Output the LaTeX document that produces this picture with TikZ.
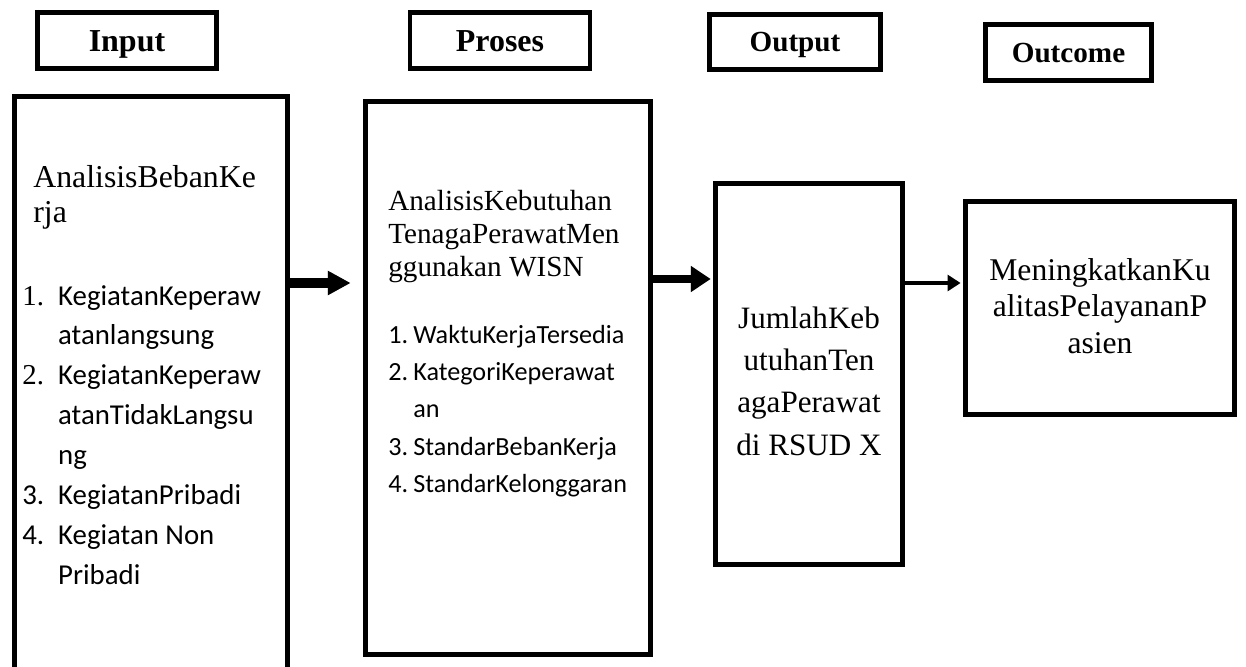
\documentclass[tikz,border=0pt]{standalone}
\usepackage{fontspec}
\setmainfont{Liberation Serif}
\newfontfamily\calibri{Carlito}
\usepackage{tikz}
\usetikzlibrary{arrows.meta}

\begin{document}
\begin{tikzpicture}[x=0.02cm, y=-0.02cm,
    box/.style={draw, rectangle, line width=2.8pt, inner sep=0pt},
    headbox/.style={box, font=\fontsize{18.2}{21}\selectfont\bfseries, text height=12.2pt, text depth=0pt},
    smallhead/.style={font=\fontsize{16.6}{20}\selectfont\bfseries, text height=11.2pt},
    txt/.style={inner sep=0pt, anchor=base west},
    ctxt/.style={inner sep=0pt, anchor=base},
    shade/.style={draw=black!30, xshift=1.2pt, yshift=-1.6pt},
    fatA/.style={line width=5.7pt, -{Triangle[length=13pt,width=13pt]}, shorten >=7.1pt},
    fatB/.style={line width=4.5pt, -{Triangle[length=11.3pt,width=14.2pt]}, shorten >=1.4pt},
    thinC/.style={line width=2.3pt, -{Triangle[length=7.4pt,width=9pt]}, shorten >=1.4pt}]
    \useasboundingbox (0,0) rectangle (1246,666);
    \clip (0,0) rectangle (1246,666);

    \node[headbox, minimum width=3.58cm, minimum height=1.12cm] (hInput) at (127,40.5) {Input};
    \node[headbox, minimum width=3.6cm, minimum height=1.12cm] (hProses) at (500,40.5) {Proses};
    \node[headbox, smallhead, minimum width=3.42cm, minimum height=1.1cm] (hOutput) at (795,42) {Output};
    \node[headbox, smallhead, minimum width=3.32cm, minimum height=1.12cm] (hOutcome) at (1068.5,52.5) {Outcome};

    \node[box, minimum width=5.46cm, minimum height=12.16cm] (bInput) at (151,400) {};
    \node[box, minimum width=5.7cm, minimum height=11.06cm] (bProses) at (508,378) {};
    \node[box, minimum width=3.74cm, minimum height=7.62cm] (bOutput) at (809,374) {};
    \node[box, minimum width=5.38cm, minimum height=4.26cm] (bOutcome) at (1100,308) {};

    \node[txt, font=\fontsize{18.1}{20.4}\selectfont] (inHead) at (33,187)
        {\begin{tabular}[t]{@{}l@{}}AnalisisBebanKe\\rja\end{tabular}};
    \node[txt, font=\calibri\fontsize{16.4}{22.7}\selectfont] (inList) at (22,305)
        {\begin{tabular}[t]{@{}p{20.4pt}@{}l@{}}
        {\rmfamily 1.} & KegiatanKeperaw\\
         & atanlangsung\\
        {\rmfamily 2.} & KegiatanKeperaw\\
         & atanTidakLangsu\\
         & ng\\
        3. & KegiatanPribadi\\
        4. & Kegiatan Non\\
         & Pribadi
        \end{tabular}};

    \node[txt, font=\fontsize{16.6}{19}\selectfont] (prHead) at (388,210)
        {\begin{tabular}[t]{@{}l@{}}AnalisisKebutuhan\\TenagaPerawatMen\\ggunakan WISN\end{tabular}};
    \node[txt, font=\calibri\fontsize{14.9}{21.3}\selectfont] (prList) at (388,343)
        {\begin{tabular}[t]{@{}p{14.2pt}@{}l@{}}
        1. & WaktuKerjaTersedia\\
        2. & KategoriKeperawat\\
         & an\\
        3. & StandarBebanKerja\\
        4. & StandarKelonggaran
        \end{tabular}};

    \node[ctxt, font=\fontsize{17.7}{24.1}\selectfont] (outTxt) at (809,328)
        {\begin{tabular}[t]{@{}c@{}}JumlahKeb\\utuhanTen\\agaPerawat\\di RSUD X\end{tabular}};
    \node[ctxt, font=\fontsize{18}{21}\selectfont] (ocTxt) at (1100,280)
        {\begin{tabular}[t]{@{}c@{}}MeningkatkanKu\\alitasPelayananP\\asien\end{tabular}};

    \coordinate (a1) at (0,283);
    \coordinate (a2) at (0,279);
    \coordinate (a3) at (0,283);
    \draw[fatA, shade] (bInput.east |- a1) -- (bProses.west |- a1);
    \draw[fatA] (bInput.east |- a1) -- (bProses.west |- a1);
    \draw[fatB, shade] (bProses.east |- a2) -- (bOutput.west |- a2);
    \draw[fatB] (bProses.east |- a2) -- (bOutput.west |- a2);
    \draw[thinC] (bOutput.east |- a3) -- (bOutcome.west |- a3);
\end{tikzpicture}
\end{document}
